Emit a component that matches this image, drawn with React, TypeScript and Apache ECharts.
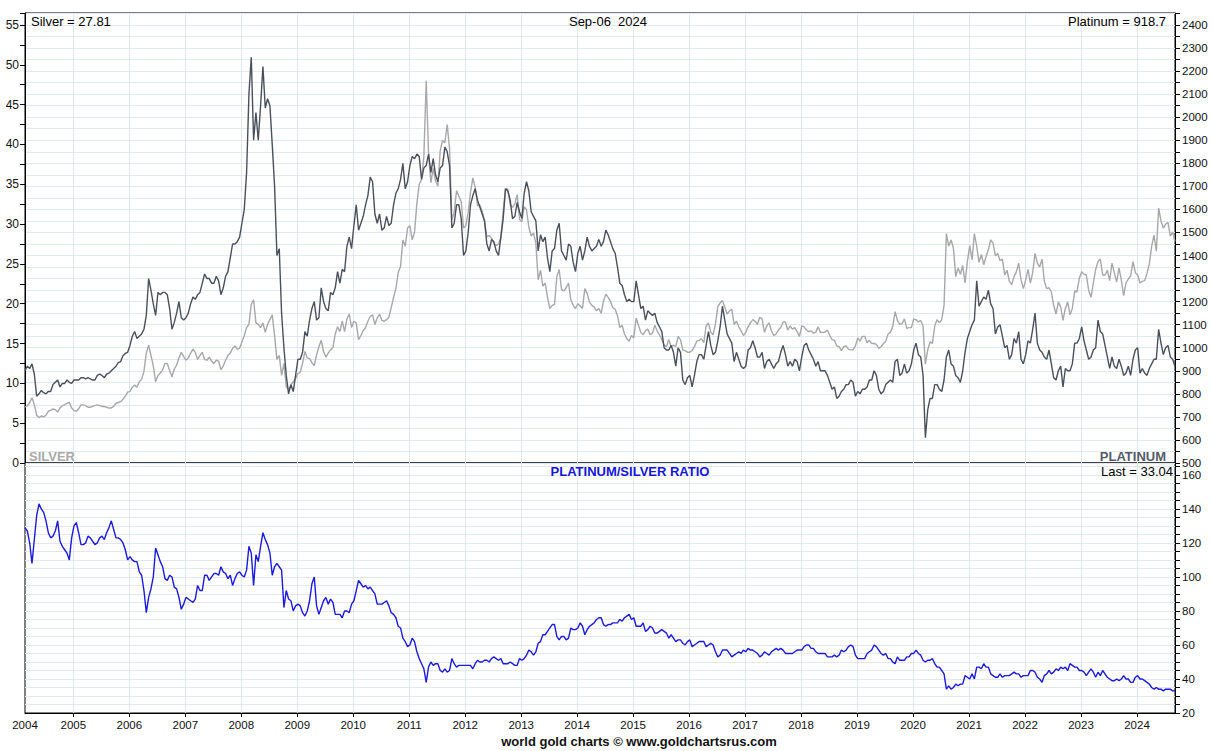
import React, { useEffect, useRef } from "react";
import * as echarts from "echarts";

// x positions: semi-monthly samples starting at the first trading day shown
const START = 2004.137;
const END = 2024.679;
const STEP = 1 / 24;
const YEARS = [2005, 2006, 2007, 2008, 2009, 2010, 2011, 2012, 2013, 2014, 2015, 2016, 2017, 2018, 2019, 2020, 2021, 2022, 2023, 2024];

const TITLE_LEFT = "Silver = 27.81";
const TITLE_MID = "Sep-06  2024";
const TITLE_RIGHT = "Platinum = 918.7";
const LAST_RATIO = "Last = 33.04";

// Silver (USD/oz), semi-monthly
const silver = [
  7.0, 7.2, 7.6, 8.2, 7.3, 6.0, 5.7, 5.9, 5.8, 6.0, 6.5, 6.6, 6.8, 6.7, 6.4, 6.9, 7.2, 7.3, 7.5, 7.6, 6.9, // 2004
  6.6, 6.5, 6.8, 7.3, 7.3, 7.2, 7.0, 7.0, 7.1, 7.2, 7.3, 7.2, 7.1, 7.1, 7.0, 6.9, 6.9, 7.1, 7.5, 7.6, 7.7, 8.0, 8.4, 8.9, // 2005
  9.0, 9.5, 9.8, 9.5, 10.2, 10.5, 11.5, 13.8, 14.8, 13.5, 12.2, 10.2, 11.0, 11.3, 11.7, 12.5, 12.5, 11.6, 10.8, 11.8, 12.3, 13.2, 13.9, 13.4, // 2006
  12.9, 13.2, 13.8, 14.3, 13.9, 13.0, 13.5, 13.9, 13.0, 12.9, 13.3, 12.8, 12.5, 12.9, 12.8, 11.7, 12.2, 12.9, 13.5, 13.8, 14.4, 14.7, 14.3, 14.4, // 2007
  15.2, 16.0, 17.0, 17.4, 19.9, 20.5, 17.6, 17.4, 17.0, 17.6, 16.4, 17.4, 18.0, 18.6, 16.0, 13.0, 13.5, 11.0, 12.5, 9.6, 9.2, 9.8, 10.2, 10.6, // 2008
  11.2, 11.4, 12.5, 14.0, 13.2, 13.1, 12.6, 12.2, 13.6, 14.6, 15.4, 14.0, 13.3, 13.8, 14.2, 14.5, 16.2, 17.1, 16.5, 17.8, 16.5, 18.1, 18.7, 17.0, // 2009
  17.8, 17.6, 15.5, 16.0, 16.6, 17.0, 17.8, 18.4, 18.6, 17.4, 18.2, 18.7, 17.9, 17.8, 18.0, 18.3, 19.5, 20.8, 21.9, 23.9, 24.7, 28.0, 27.2, 29.5, // 2010
  29.8, 28.0, 29.0, 32.6, 35.0, 35.6, 38.5, 48.0, 39.0, 35.2, 37.0, 35.4, 34.8, 39.2, 40.5, 40.2, 42.5, 39.5, 30.5, 31.5, 34.2, 33.5, 32.8, 29.5, // 2011
  29.8, 31.5, 34.0, 35.8, 34.6, 32.3, 32.4, 31.6, 30.4, 28.4, 28.6, 28.2, 27.6, 27.3, 27.5, 28.3, 31.6, 34.4, 34.4, 32.4, 32.1, 32.5, 33.7, 30.6, // 2012
  30.3, 32.2, 31.8, 29.6, 28.5, 28.9, 27.6, 23.0, 24.2, 22.2, 22.6, 20.8, 19.4, 19.8, 19.9, 23.4, 24.3, 21.8, 21.6, 22.0, 22.6, 20.5, 19.8, 19.4, // 2013
  20.0, 19.7, 19.4, 21.9, 21.3, 20.2, 19.8, 19.6, 19.1, 19.4, 18.8, 20.3, 21.2, 20.8, 20.3, 19.5, 19.3, 18.5, 17.0, 17.3, 16.2, 15.6, 15.3, 16.0, // 2014
  15.7, 18.2, 17.3, 16.4, 16.1, 16.6, 16.8, 16.1, 16.3, 17.3, 16.6, 16.1, 15.5, 14.8, 14.6, 15.5, 14.6, 14.8, 14.6, 15.9, 15.5, 14.2, 14.1, 13.9, // 2015
  13.9, 14.1, 14.6, 15.3, 15.4, 15.6, 15.1, 17.2, 17.6, 16.4, 16.1, 17.5, 19.6, 20.1, 20.4, 19.6, 18.7, 19.1, 19.3, 17.4, 17.8, 17.1, 16.6, 16.0, // 2016
  16.4, 17.1, 17.6, 18.0, 17.8, 17.4, 18.3, 18.1, 16.4, 17.2, 17.6, 16.6, 16.0, 16.2, 16.7, 17.0, 17.7, 17.7, 16.7, 17.2, 16.8, 17.0, 16.5, 15.9, // 2017
  17.2, 17.1, 16.7, 16.5, 16.6, 16.3, 16.4, 17.1, 16.4, 16.4, 16.4, 16.7, 16.0, 15.5, 15.4, 14.7, 14.6, 14.1, 14.6, 14.7, 14.3, 14.2, 14.2, 14.7, // 2018
  15.7, 15.3, 15.9, 15.9, 15.1, 15.4, 15.0, 15.0, 14.9, 14.4, 14.6, 15.0, 15.3, 16.2, 16.4, 17.1, 19.0, 17.9, 17.4, 17.5, 18.1, 16.9, 17.0, 17.0, // 2019
  18.1, 18.0, 17.7, 17.9, 17.2, 12.4, 14.2, 15.2, 15.0, 17.2, 18.0, 17.6, 18.0, 19.8, 28.8, 27.2, 28.0, 27.0, 23.4, 24.5, 23.7, 24.8, 22.6, 25.3, // 2020
  27.3, 25.5, 28.8, 27.2, 25.2, 26.2, 24.9, 25.9, 26.8, 28.0, 27.6, 26.0, 26.3, 25.4, 25.6, 23.6, 24.2, 22.8, 22.4, 23.4, 24.0, 25.1, 23.0, 21.9, // 2021
  23.0, 24.3, 22.6, 23.9, 26.3, 25.1, 24.6, 25.6, 22.8, 21.9, 22.0, 21.5, 19.8, 18.7, 20.2, 19.6, 17.9, 19.4, 20.2, 18.6, 19.4, 21.6, 21.5, 23.2, // 2022
  24.0, 23.7, 23.6, 21.7, 20.8, 22.6, 24.3, 25.3, 25.6, 23.6, 23.6, 24.2, 22.9, 25.1, 23.9, 22.7, 24.5, 23.0, 21.0, 22.6, 23.1, 23.5, 25.3, 23.9, // 2023
  23.6, 22.6, 22.8, 22.9, 23.8, 25.0, 27.2, 28.6, 26.6, 32.0, 30.4, 29.5, 30.0, 30.2, 28.5, 29.0, 27.81, // 2024
];

// Platinum (USD/oz), semi-monthly
const platinum = [
  900, 920, 910, 930, 885, 790, 800, 815, 805, 800, 810, 810, 840, 850, 860, 830, 845, 845, 860, 850, 845, // 2004
  860, 860, 860, 870, 870, 865, 870, 865, 860, 860, 880, 885, 880, 870, 885, 890, 900, 910, 920, 935, 940, 965, 975, 980, // 2005
  1010, 1050, 1070, 1040, 1050, 1060, 1080, 1140, 1300, 1250, 1190, 1140, 1240, 1230, 1240, 1240, 1230, 1170, 1080, 1110, 1150, 1200, 1130, 1120, // 2006
  1130, 1150, 1190, 1220, 1210, 1230, 1240, 1280, 1320, 1300, 1300, 1280, 1280, 1310, 1290, 1230, 1260, 1310, 1330, 1390, 1450, 1450, 1460, 1480, // 2007
  1540, 1600, 1760, 2100, 2260, 1900, 2020, 1900, 2050, 2220, 2040, 2080, 2050, 1880, 1700, 1400, 1430, 1150, 1000, 880, 800, 840, 810, 880, // 2008
  950, 950, 980, 1070, 1050, 1120, 1170, 1200, 1120, 1130, 1260, 1200, 1170, 1160, 1240, 1230, 1260, 1330, 1280, 1340, 1330, 1440, 1480, 1430, // 2009
  1530, 1620, 1510, 1540, 1570, 1620, 1660, 1740, 1720, 1580, 1540, 1580, 1510, 1520, 1570, 1530, 1540, 1620, 1670, 1690, 1730, 1800, 1690, 1720, // 2010
  1790, 1830, 1820, 1840, 1830, 1730, 1780, 1790, 1840, 1760, 1820, 1750, 1720, 1780, 1790, 1870, 1850, 1790, 1520, 1540, 1620, 1620, 1560, 1400, // 2011
  1420, 1500, 1620, 1660, 1690, 1640, 1610, 1580, 1550, 1450, 1420, 1470, 1460, 1420, 1400, 1480, 1560, 1690, 1680, 1640, 1560, 1570, 1630, 1590, // 2012
  1560, 1670, 1720, 1680, 1590, 1570, 1550, 1420, 1490, 1460, 1480, 1390, 1330, 1420, 1430, 1510, 1540, 1420, 1400, 1380, 1450, 1440, 1370, 1330, // 2013
  1410, 1440, 1380, 1420, 1480, 1440, 1420, 1430, 1440, 1470, 1440, 1460, 1510, 1490, 1460, 1430, 1410, 1350, 1280, 1270, 1230, 1200, 1210, 1200, // 2014
  1200, 1290, 1230, 1170, 1180, 1120, 1160, 1150, 1140, 1150, 1110, 1090, 1070, 1000, 990, 990, 1010, 980, 920, 1000, 980, 860, 840, 870, // 2015
  880, 830, 880, 940, 970, 970, 950, 1010, 1070, 1010, 970, 980, 1030, 1090, 1180, 1120, 1060, 1040, 1020, 940, 980, 950, 920, 910, // 2016
  920, 990, 1000, 1030, 1000, 960, 960, 980, 910, 940, 950, 930, 910, 930, 940, 980, 1010, 970, 920, 940, 920, 950, 940, 900, // 2017
  960, 1010, 1020, 990, 970, 950, 920, 940, 900, 900, 900, 880, 850, 820, 830, 780, 790, 810, 820, 840, 840, 860, 850, 790, // 2018
  810, 800, 820, 820, 830, 860, 860, 900, 880, 820, 800, 810, 840, 850, 860, 850, 940, 950, 880, 890, 930, 890, 900, 930, // 2019
  990, 1020, 970, 960, 880, 610, 730, 780, 780, 840, 840, 820, 810, 860, 960, 990, 930, 920, 880, 870, 850, 900, 980, 1040, // 2020
  1070, 1100, 1120, 1290, 1180, 1200, 1220, 1210, 1250, 1190, 1170, 1060, 1090, 1100, 1050, 1000, 1010, 950, 970, 1040, 1020, 1070, 950, 930, // 2021
  970, 1030, 1020, 1080, 1150, 1020, 990, 980, 960, 950, 990, 930, 870, 860, 900, 920, 830, 910, 900, 900, 930, 1020, 1020, 1040, // 2022
  1090, 1030, 990, 950, 960, 990, 1000, 1120, 1070, 1060, 1010, 960, 910, 960, 920, 910, 950, 920, 880, 890, 920, 880, 950, 990, // 2023
  1000, 890, 910, 890, 880, 910, 930, 950, 950, 1080, 1020, 970, 1000, 1010, 960, 950, 918.7, // 2024
];

// Platinum/Silver ratio, semi-monthly
const ratio = [
  129, 127, 120, 108, 122, 136, 143, 140, 138, 133, 126, 123, 124, 127, 133, 121, 118, 116, 114, 110, 123, // 2004
  130, 132, 126, 119, 119, 120, 124, 123, 121, 119, 120, 123, 124, 122, 126, 129, 133, 128, 123, 123, 122, 120, 116, 110, // 2005
  112, 110, 109, 109, 103, 101, 92, 79, 88, 93, 100, 117, 113, 109, 106, 99, 98, 101, 100, 94, 93, 88, 81, 84, // 2006
  88, 87, 86, 85, 87, 95, 92, 92, 101, 101, 98, 100, 102, 102, 101, 106, 103, 102, 99, 101, 95, 99, 102, 103, // 2007
  101, 100, 104, 118, 114, 95, 113, 109, 118, 126, 122, 119, 114, 101, 106, 108, 106, 104, 82, 92, 87, 86, 80, 83, // 2008
  84, 83, 79, 77, 80, 86, 96, 100, 83, 78, 82, 86, 88, 84, 87, 85, 78, 78, 78, 76, 80, 80, 79, 84, // 2009
  86, 92, 98, 96, 94, 95, 93, 94, 92, 90, 84, 84, 84, 85, 86, 83, 79, 78, 76, 71, 70, 64, 62, 59, // 2010
  60, 64, 62, 56, 52, 49, 46, 38, 47, 50, 48, 49, 49, 45, 44, 46, 44, 45, 52, 49, 47, 48, 48, 48, // 2011
  48, 48, 48, 46, 49, 51, 50, 50, 51, 51, 50, 52, 53, 52, 51, 52, 49, 49, 49, 50, 49, 48, 48, 52, // 2012
  51, 52, 54, 57, 56, 54, 56, 61, 62, 66, 66, 68, 70, 72, 72, 65, 63, 65, 65, 63, 64, 70, 69, 69, // 2013
  70, 73, 71, 66, 69, 71, 72, 73, 75, 76, 76, 72, 71, 72, 72, 73, 73, 73, 75, 74, 76, 77, 78, 75, // 2014
  76, 71, 71, 71, 73, 68, 69, 71, 70, 67, 67, 68, 69, 68, 67, 64, 66, 64, 62, 63, 63, 61, 60, 62, // 2015
  63, 59, 60, 61, 62, 62, 62, 59, 60, 61, 60, 56, 53, 54, 57, 57, 57, 55, 53, 54, 55, 56, 55, 57, // 2016
  56, 58, 57, 57, 56, 55, 53, 54, 56, 55, 54, 56, 57, 58, 57, 58, 57, 55, 55, 55, 55, 56, 57, 57, // 2017
  57, 59, 60, 60, 58, 58, 56, 55, 55, 55, 55, 53, 53, 53, 54, 53, 54, 57, 56, 57, 59, 60, 59, 54, // 2018
  52, 52, 52, 52, 55, 56, 57, 60, 59, 57, 55, 54, 55, 52, 52, 50, 49, 53, 51, 51, 51, 53, 53, 55, // 2019
  55, 57, 55, 54, 51, 50, 51, 51, 52, 49, 47, 47, 45, 43, 34, 36, 34, 35, 37, 36, 37, 37, 42, 41, // 2020
  40, 43, 40, 47, 47, 46, 49, 47, 47, 43, 42, 41, 41, 43, 41, 42, 42, 42, 43, 44, 43, 43, 41, 42, // 2021
  42, 42, 45, 45, 44, 41, 40, 38, 42, 43, 45, 43, 44, 46, 45, 47, 46, 47, 45, 49, 48, 47, 47, 45, // 2022
  45, 44, 42, 44, 46, 44, 41, 44, 42, 45, 43, 41, 40, 39, 39, 40, 39, 40, 42, 40, 40, 38, 38, 41, // 2023
  42, 40, 40, 39, 38, 37, 35, 34, 35, 34, 34, 33, 34, 34, 34, 33, 33.04, // 2024
];

const FONT = '"Liberation Sans", Arial, Helvetica, sans-serif';
const GRID_COLOR = "#e1e8f0";
const AXIS_COLOR = "#000";
const LABEL_COLOR = "#111";

const toPairs = (arr: number[]) => arr.map((v, i) => [START + i * STEP, v]);

export default function App() {
  const ref = useRef<HTMLDivElement>(null);

  useEffect(() => {
    document.body.style.margin = "0";
    if (!ref.current) return;
    const chart = echarts.init(ref.current, undefined, { renderer: "svg" });

    const tickStyle = { lineStyle: { color: AXIS_COLOR, width: 1 } };
    const splitStyle = { show: true, lineStyle: { color: GRID_COLOR, width: 1 } };
    const txt = (x: number, y: number, text: string, font: string, fill: string, align: string) => ({
      type: "text", x, y, z: 100, zlevel: 0,
      style: { text, font, fill, align, verticalAlign: "middle" },
    });

    const option: any = {
      animation: false,
      backgroundColor: "#ffffff",
      textStyle: { fontFamily: FONT },
      grid: [
        { left: 25, top: 13, width: 1150, height: 450, show: true, borderColor: "#000", borderWidth: 1, backgroundColor: "transparent" },
        { left: 25, top: 463, width: 1150, height: 250, show: true, borderColor: "#000", borderWidth: 1, backgroundColor: "transparent" },
      ],
      xAxis: [
        {
          type: "value", gridIndex: 0, min: START, max: END,
          axisLine: { show: false },
          axisTick: { show: false, customValues: YEARS },
          axisLabel: { show: false },
          splitLine: splitStyle,
        },
        {
          type: "value", gridIndex: 1, min: START, max: END,
          axisLine: { show: true, lineStyle: { color: AXIS_COLOR } },
          axisTick: { show: true, customValues: YEARS, length: 4, ...tickStyle },
          axisLabel: {
            customValues: [START, ...YEARS],
            formatter: (v: number) => String(Math.floor(v + 1e-6)),
            fontSize: 11.5, color: LABEL_COLOR, margin: 6, fontFamily: FONT,
          },
          splitLine: splitStyle,
        },
      ],
      yAxis: [
        {
          type: "value", gridIndex: 0, position: "left", min: 0, max: 56.5, interval: 2.5,
          axisLine: { show: true, lineStyle: { color: AXIS_COLOR } },
          axisTick: { show: true, length: 5, ...tickStyle },
          axisLabel: {
            formatter: (v: number) => (Math.abs(v % 5) < 1e-6 ? String(v) : ""),
            fontSize: 12, color: LABEL_COLOR, margin: 6, fontFamily: FONT,
          },
          splitLine: { show: false },
        },
        {
          type: "value", gridIndex: 0, position: "right", min: 500, max: 2452, interval: 50,
          axisLine: { show: true, lineStyle: { color: AXIS_COLOR } },
          axisTick: { show: true, length: 5, ...tickStyle },
          axisLabel: {
            formatter: (v: number) => (v % 100 === 0 ? String(v) : ""),
            fontSize: 11.5, color: LABEL_COLOR, margin: 7, fontFamily: FONT,
          },
          splitLine: splitStyle,
        },
        {
          type: "value", gridIndex: 1, position: "right", min: 20, max: 167, interval: 5,
          axisLine: { show: true, lineStyle: { color: AXIS_COLOR } },
          axisTick: { show: true, length: 5, ...tickStyle },
          axisLabel: {
            formatter: (v: number) => (v % 20 === 0 ? String(v) : ""),
            fontSize: 11.5, color: LABEL_COLOR, margin: 7, fontFamily: FONT,
          },
          splitLine: splitStyle,
        },
      ],
      series: [
        {
          name: "Silver", type: "line", xAxisIndex: 0, yAxisIndex: 0, data: toPairs(silver),
          symbol: "none", lineStyle: { color: "#a8a8a8", width: 1.4 }, z: 2,
        },
        {
          name: "Platinum", type: "line", xAxisIndex: 0, yAxisIndex: 1, data: toPairs(platinum),
          symbol: "none", lineStyle: { color: "#4a505b", width: 1.4 }, z: 3,
        },
        {
          name: "Ratio", type: "line", xAxisIndex: 1, yAxisIndex: 2, data: toPairs(ratio),
          symbol: "none", lineStyle: { color: "#1a1ae0", width: 1.4 }, z: 3,
        },
      ],
      graphic: {
        elements: [
          txt(31, 21, TITLE_LEFT, `13px ${FONT}`, "#000", "left"),
          txt(608, 21, TITLE_MID, `13px ${FONT}`, "#000", "center"),
          txt(1166, 21, TITLE_RIGHT, `13px ${FONT}`, "#000", "right"),
          txt(29, 456, "SILVER", `bold 13px ${FONT}`, "#a9a9a9", "left"),
          txt(1166, 456, "PLATINUM", `bold 13px ${FONT}`, "#555b67", "right"),
          txt(630, 471, "PLATINUM/SILVER RATIO", `bold 13px ${FONT}`, "#1515dd", "center"),
          txt(1173, 471, LAST_RATIO, `13px ${FONT}`, "#000", "right"),
          txt(639, 741, "world gold charts \u00a9 www.goldchartsrus.com", `bold 13px ${FONT}`, "#111", "center"),
        ],
      },
    };

    chart.setOption(option);
    return () => chart.dispose();
  }, []);

  return <div ref={ref} style={{ width: 1213, height: 751 }} />;
}
